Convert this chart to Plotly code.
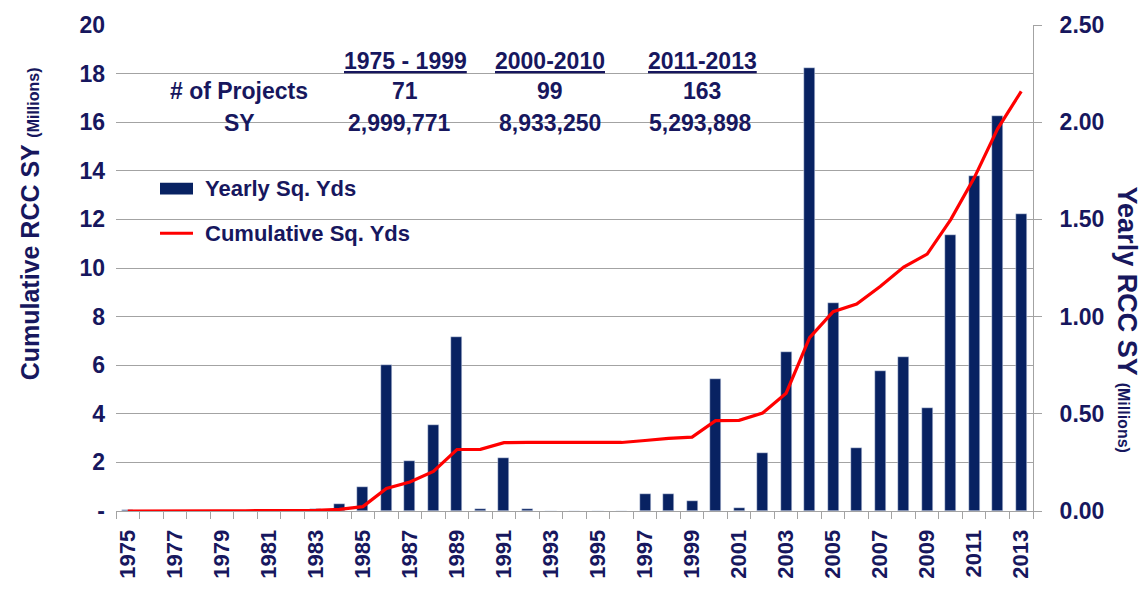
import plotly.graph_objects as go

# ---- data (millions of square yards) ----
years = list(range(1975, 2014))
yearly_sy = [0.005, 0, 0, 0, 0, 0, 0, 0.005, 0.01, 0.037, 0.123, 0.753, 0.259, 0.443,
             0.895, 0.008, 0.273, 0.008, 0, 0, 0, 0, 0.085, 0.09, 0.051, 0.68, 0.014,
             0.298, 0.818, 2.28, 1.07, 0.324, 0.72, 0.794, 0.532, 1.42, 1.725, 2.03, 1.53]
cumulative_sy = [0.00, 0.01, 0.01, 0.01, 0.01, 0.01, 0.01, 0.02, 0.03, 0.07, 0.18, 0.93,
                 1.19, 1.63, 2.53, 2.54, 2.81, 2.82, 2.82, 2.82, 2.82, 2.82, 2.90, 2.99,
                 3.04, 3.72, 3.73, 4.03, 4.85, 7.13, 8.20, 8.52, 9.24, 10.04, 10.57, 11.99,
                 13.71, 15.74, 17.27]

periods = ["1975 - 1999", "2000-2010", "2011-2013"]
projects = ["71", "99", "163"]
sy_totals = ["2,999,771", "8,933,250", "5,293,898"]

left_ticks = list(range(0, 21, 2))
left_ticktext = ["-"] + [str(v) for v in left_ticks[1:]]
label_years = [y for y in years if y % 2 == 1]

# ---- style ----
NAVY_TEXT = "#17175e"
BAR = "#082262"
RED = "#ff0000"
GRID = "#a3a3a3"
FONT = "Arial, Liberation Sans, sans-serif"

W, H = 1144, 592
L, R, T, B = 116, 1033, 21, 511  # plot area in pixels


def px(x):
    return (x - L) / (R - L)


def py(y):
    return (B - y) / (B - T)


fig = go.Figure()

fig.add_trace(go.Bar(
    x=years, y=yearly_sy, yaxis="y", marker_color=BAR, width=0.47,
    name="Yearly Sq. Yds", showlegend=False,
))
fig.add_trace(go.Scatter(
    x=years, y=cumulative_sy, yaxis="y2", mode="lines",
    line=dict(color=RED, width=3.2), name="Cumulative Sq. Yds", showlegend=False,
))

tickfont = dict(family=FONT, size=23, color=NAVY_TEXT, weight="bold")

fig.update_layout(
    width=W, height=H,
    margin=dict(l=L, r=W - R, t=T, b=H - B, pad=0),
    paper_bgcolor="white", plot_bgcolor="white",
    bargap=0,
    xaxis=dict(
        range=[1974.5, 2013.5], showgrid=False, zeroline=False,
        showline=True, linecolor=GRID, linewidth=1,
        tickmode="array", tickvals=label_years, ticktext=[str(y) for y in label_years],
        tickangle=-90, ticks="", ticklabelstandoff=9,
        tickfont=dict(family=FONT, size=22, color=NAVY_TEXT, weight="bold"),
        minor=dict(tickmode="array", tickvals=[y - 0.5 for y in years] + [2013.5],
                   ticks="outside", ticklen=7, tickcolor=GRID, tickwidth=1, showgrid=False),
    ),
    yaxis=dict(
        side="right", range=[0, 2.5], dtick=0.5, tick0=0, tickformat=".2f",
        showgrid=False, zeroline=False, showline=True, linecolor=GRID, linewidth=1,
        ticks="outside", ticklen=8, tickcolor=GRID, ticklabelstandoff=13,
        tickfont=tickfont,
    ),
    yaxis2=dict(
        side="left", overlaying="y", range=[0, 20],
        tickmode="array", tickvals=left_ticks, ticktext=left_ticktext,
        showgrid=True, gridcolor=GRID, gridwidth=1, zeroline=False, showline=False,
        ticks="", ticklabelstandoff=10, tickfont=tickfont,
    ),
)

annotations = []


def text(x, y, s, size=23, angle=0, xanchor="center"):
    annotations.append(dict(
        x=px(x), y=py(y), xref="paper", yref="paper", text=s, showarrow=False,
        xanchor=xanchor, yanchor="middle", textangle=angle,
        font=dict(family=FONT, size=size, color=NAVY_TEXT, weight="bold"),
    ))


# summary table
col_x = [405, 550, 702]
for cx, p in zip(col_x, periods):
    text(cx, 57, f"<u>{p}</u>")
text(239, 88, "# of Projects")
text(239, 120, "SY")
for cx, n in zip(col_x, projects):
    text(cx, 88, n)
for cx, s in zip([399, 550, 700], sy_totals):
    text(cx, 120, s)

# legend
text(203, 186, "Yearly Sq. Yds", size=22, xanchor="left")
text(203, 231, "Cumulative Sq. Yds", size=22, xanchor="left")
shapes = [
    dict(type="rect", xref="paper", yref="paper", x0=px(160), x1=px(193),
         y0=py(192), y1=py(180), fillcolor=BAR, line=dict(width=0)),
    dict(type="line", xref="paper", yref="paper", x0=px(160), x1=px(193),
         y0=py(231), y1=py(231), line=dict(color=RED, width=3)),
]

# axis titles
text(30, 222, "Cumulative RCC SY <span style='font-size:16px'>(Millions)</span>",
     size=25, angle=-90)
text(1127, 318, "Yearly RCC SY <span style='font-size:16px'>(Millions)</span>",
     size=27, angle=90)

fig.update_layout(annotations=annotations, shapes=shapes)

fig.write_html("out.html")
